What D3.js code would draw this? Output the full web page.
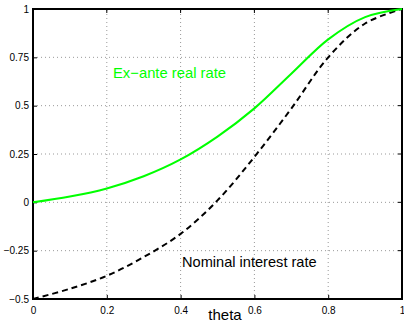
<!DOCTYPE html>
<html>
<head>
<meta charset="utf-8">
<script src="https://cdn.jsdelivr.net/npm/d3@7/dist/d3.min.js"></script>
<style>
  body { margin: 0; background: #fff; }
  text { font-family: "Liberation Sans", Arial, Helvetica, sans-serif; }
</style>
</head>
<body>
<div id="chart"></div>
<script>
// values
const theta = [0, 0.1, 0.2, 0.3, 0.4, 0.5, 0.6, 0.7, 0.8, 0.9, 1];
const realRate = [0, 0.03, 0.072, 0.135, 0.222, 0.34, 0.486, 0.665, 0.843, 0.958, 1];
const nominalRate = [-0.5, -0.447, -0.38, -0.283, -0.163, 0.01, 0.235, 0.485, 0.75, 0.925, 1];
const xTicks = [0, 0.2, 0.4, 0.6, 0.8, 1];
const yTicks = [-0.5, -0.25, 0, 0.25, 0.5, 0.75, 1];

const width = 404, height = 322;
const margin = { left: 33, right: 2, top: 9, bottom: 23 };

const svg = d3.select('#chart').append('svg')
    .attr('width', width)
    .attr('height', height);

const x = d3.scaleLinear().domain([0, 1]).range([margin.left, width - margin.right]);
const y = d3.scaleLinear().domain([-0.5, 1]).range([height - margin.bottom, margin.top]);

// dotted grid
svg.append('g').selectAll('line.gx')
    .data(xTicks.slice(1, -1))
    .enter().append('line')
    .attr('x1', d => x(d)).attr('x2', d => x(d))
    .attr('y1', y(-0.5)).attr('y2', y(1))
    .attr('stroke', '#999').attr('stroke-dasharray', '1,3');

svg.append('g').selectAll('line.gy')
    .data(yTicks.slice(1, -1))
    .enter().append('line')
    .attr('y1', d => y(d)).attr('y2', d => y(d))
    .attr('x1', x(0)).attr('x2', x(1))
    .attr('stroke', '#999').attr('stroke-dasharray', '1,3');

// axes, ticks pointing inwards
const xAxis = svg.append('g')
    .attr('transform', `translate(0,${y(-0.5)})`)
    .call(d3.axisBottom(x).tickValues(xTicks).tickSizeInner(-4).tickSizeOuter(0).tickPadding(8)
        .tickFormat(d3.format('')));
const yAxis = svg.append('g')
    .attr('transform', `translate(${x(0)},0)`)
    .call(d3.axisLeft(y).tickValues(yTicks).tickSizeInner(-4).tickSizeOuter(0).tickPadding(4)
        .tickFormat(d => d3.format('')(d).replace('-', '\u2212')));

[xAxis, yAxis].forEach(a => {
    a.select('.domain').remove();
    a.selectAll('text').attr('font-size', 10).attr('fill', '#000')
        .style('font-family', '"Liberation Sans", Arial, sans-serif');
    a.selectAll('line').attr('stroke', '#000');
});

// ticks on opposite sides
svg.append('g').selectAll('line')
    .data(xTicks).enter().append('line')
    .attr('x1', d => x(d)).attr('x2', d => x(d))
    .attr('y1', y(1)).attr('y2', y(1) + 4).attr('stroke', '#000');
svg.append('g').selectAll('line')
    .data(yTicks).enter().append('line')
    .attr('y1', d => y(d)).attr('y2', d => y(d))
    .attr('x1', x(1)).attr('x2', x(1) - 4).attr('stroke', '#000');

// box
svg.append('rect')
    .attr('x', x(0)).attr('y', y(1))
    .attr('width', x(1) - x(0)).attr('height', y(-0.5) - y(1))
    .attr('fill', 'none').attr('stroke', '#000').attr('stroke-width', 2);

const line = d3.line()
    .x(d => x(d[0]))
    .y(d => y(d[1]))
    .curve(d3.curveCatmullRom.alpha(0.5));

svg.append('path')
    .datum(d3.zip(theta, nominalRate))
    .attr('d', line)
    .attr('fill', 'none')
    .attr('stroke', '#000')
    .attr('stroke-width', 2)
    .attr('stroke-dasharray', '6,4');

svg.append('path')
    .datum(d3.zip(theta, realRate))
    .attr('d', line)
    .attr('fill', 'none')
    .attr('stroke', '#00ff00')
    .attr('stroke-width', 2);

svg.append('text')
    .attr('x', 113).attr('y', 78)
    .attr('font-size', 14.8)
    .attr('fill', '#00ff00')
    .text('Ex\u2212ante real rate');

svg.append('text')
    .attr('x', 182).attr('y', 267)
    .attr('font-size', 14.6)
    .attr('fill', '#000')
    .text('Nominal interest rate');

svg.append('text')
    .attr('x', 225).attr('y', 320)
    .attr('text-anchor', 'middle')
    .attr('font-size', 15)
    .attr('fill', '#000')
    .text('theta');
</script>
</body>
</html>
